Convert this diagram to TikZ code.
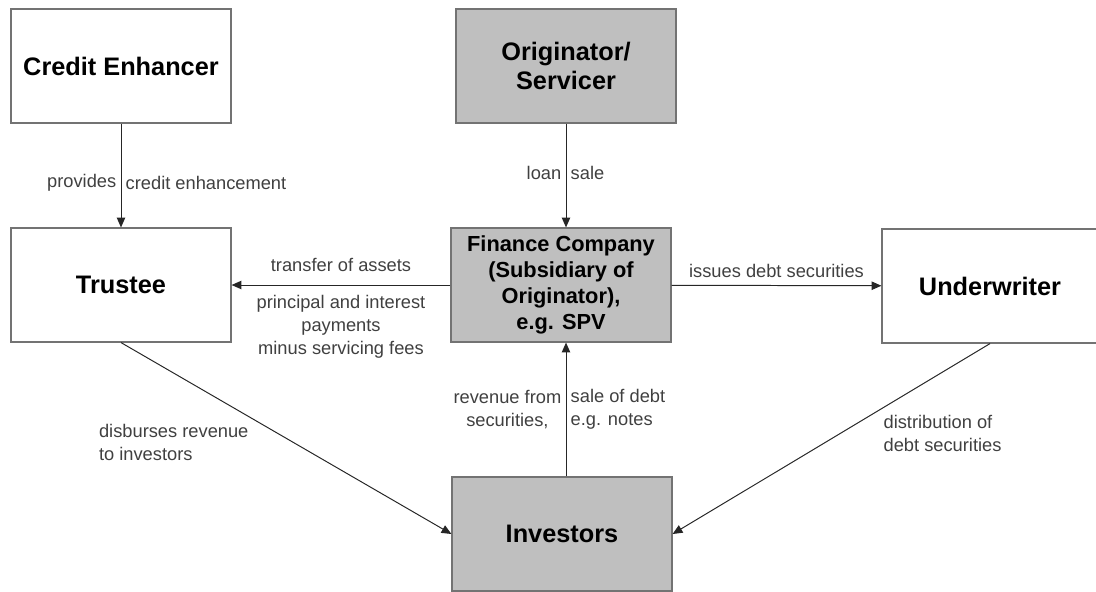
\documentclass[tikz,border=0pt]{standalone}
\usepackage{fontspec}
\setmainfont{Liberation Sans}
\usetikzlibrary{arrows.meta}
\begin{document}
\begin{tikzpicture}[x=0.025cm,y=-0.025cm,
    party/.style={draw=black!55, line width=0.8pt, minimum width=5.5cm, minimum height=2.85cm,
      align=center, font=\fontsize{18}{21}\selectfont\bfseries},
    vehicle/.style={party, fill=black!25},
    flow/.style={-{Triangle[length=7pt,width=6pt]}, black!85, line width=0.7pt},
    lbl/.style={font=\fontsize{13}{16.5}\selectfont, text=black!75, inner sep=3pt}]
   \useasboundingbox (0,0) rectangle (1096,591);
   \clip (0,0) rectangle (1096,591);
   % parties
   \node [party] (credit) at (121,66) {Credit Enhancer};
   \node [vehicle] (orig) at (566,66) {Originator/\\Servicer};
   \node [party] (trustee) at (121,285) {Trustee};
   \node [vehicle, font=\fontsize{15.5}{18.5}\selectfont\bfseries] (spv) at (561,285)
      {Finance Company\\(Subsidiary of\\Originator),\\e.g. SPV};
   \node [party, minimum width=5.4cm] (under) at (990,286) {Underwriter};
   \node [vehicle] (invest) at (562,534) {Investors};
   % flows
   \draw [flow] (credit) -- node [lbl, pos=0.57, anchor=east] {provides}
      node [lbl, pos=0.57, anchor=west] {credit enhancement} (trustee);
   \draw [flow] (orig.south) -- node [lbl, pos=0.48, anchor=east] {loan}
      node [lbl, pos=0.48, anchor=west] {sale} (orig.south |- spv.north);
   \draw [flow] (spv) -- node [lbl, above=6pt] (assets) {transfer of assets}
      node [lbl, below=4pt, align=center] (payments) {principal and interest\\payments\\minus servicing fees} (trustee);
   \draw [flow] (spv) -- node [lbl, above=2pt] (issues) {issues debt securities} (under);
   \draw [flow] (invest.north -| orig.south) -- node [lbl, anchor=east, align=center] {revenue from\\securities,}
      node [lbl, anchor=west, align=left] {sale of debt\\e.g. notes} (spv.south -| orig.south);
   \draw [flow] (trustee.south) -- node [lbl, pos=0.4, anchor=north east, align=left]
      {disburses revenue\\to investors} (invest.west);
   \draw [flow] (under.south) -- node [lbl, pos=0.35, anchor=north west, align=left]
      {distribution of\\debt securities} (invest.east);
\end{tikzpicture}
\end{document}
